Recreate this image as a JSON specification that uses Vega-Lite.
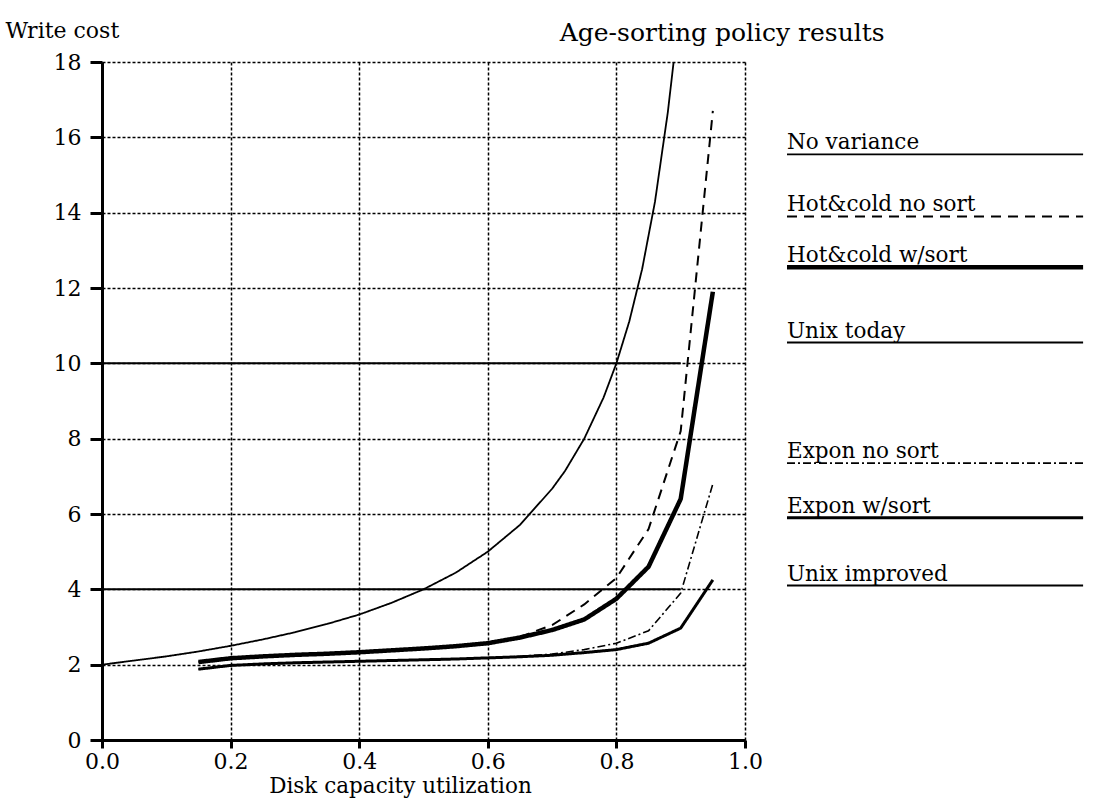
{
  "$schema": "https://vega.github.io/schema/vega-lite/v6.json",
  "background": "white",
  "padding": {"left": 5, "top": 19, "right": 0, "bottom": 5},
  "bounds": "flush",
  "spacing": 42,
  "config": {"view": {"stroke": null}, "font": "DejaVu Serif"},
  "resolve": {"scale": {"x": "independent", "y": "independent", "strokeDash": "independent", "strokeWidth": "independent"}},
  "datasets": {
    "curves": [
      {"s": "No variance", "u": 0, "c": 2}, {"s": "No variance", "u": 0.05, "c": 2.11}, {"s": "No variance", "u": 0.1, "c": 2.22}, {"s": "No variance", "u": 0.15, "c": 2.35}, {"s": "No variance", "u": 0.2, "c": 2.5}, {"s": "No variance", "u": 0.25, "c": 2.67}, {"s": "No variance", "u": 0.3, "c": 2.86}, {"s": "No variance", "u": 0.35, "c": 3.08}, {"s": "No variance", "u": 0.4, "c": 3.33}, {"s": "No variance", "u": 0.45, "c": 3.64}, {"s": "No variance", "u": 0.5, "c": 4}, {"s": "No variance", "u": 0.55, "c": 4.44}, {"s": "No variance", "u": 0.6, "c": 5}, {"s": "No variance", "u": 0.65, "c": 5.71}, {"s": "No variance", "u": 0.7, "c": 6.67}, {"s": "No variance", "u": 0.72, "c": 7.14}, {"s": "No variance", "u": 0.75, "c": 8}, {"s": "No variance", "u": 0.78, "c": 9.09}, {"s": "No variance", "u": 0.8, "c": 10}, {"s": "No variance", "u": 0.82, "c": 11.11}, {"s": "No variance", "u": 0.84, "c": 12.5}, {"s": "No variance", "u": 0.86, "c": 14.29}, {"s": "No variance", "u": 0.88, "c": 16.67}, {"s": "No variance", "u": 0.889, "c": 18},
      {"s": "Hot&cold no sort", "u": 0.15, "c": 2.07}, {"s": "Hot&cold no sort", "u": 0.2, "c": 2.17}, {"s": "Hot&cold no sort", "u": 0.25, "c": 2.22}, {"s": "Hot&cold no sort", "u": 0.3, "c": 2.26}, {"s": "Hot&cold no sort", "u": 0.35, "c": 2.29}, {"s": "Hot&cold no sort", "u": 0.4, "c": 2.33}, {"s": "Hot&cold no sort", "u": 0.45, "c": 2.38}, {"s": "Hot&cold no sort", "u": 0.5, "c": 2.43}, {"s": "Hot&cold no sort", "u": 0.55, "c": 2.49}, {"s": "Hot&cold no sort", "u": 0.6, "c": 2.57}, {"s": "Hot&cold no sort", "u": 0.65, "c": 2.74}, {"s": "Hot&cold no sort", "u": 0.7, "c": 3.05}, {"s": "Hot&cold no sort", "u": 0.75, "c": 3.6}, {"s": "Hot&cold no sort", "u": 0.8, "c": 4.3}, {"s": "Hot&cold no sort", "u": 0.85, "c": 5.6}, {"s": "Hot&cold no sort", "u": 0.9, "c": 8.2}, {"s": "Hot&cold no sort", "u": 0.95, "c": 16.7},
      {"s": "Hot&cold w/sort", "u": 0.15, "c": 2.07}, {"s": "Hot&cold w/sort", "u": 0.2, "c": 2.17}, {"s": "Hot&cold w/sort", "u": 0.25, "c": 2.22}, {"s": "Hot&cold w/sort", "u": 0.3, "c": 2.26}, {"s": "Hot&cold w/sort", "u": 0.35, "c": 2.29}, {"s": "Hot&cold w/sort", "u": 0.4, "c": 2.33}, {"s": "Hot&cold w/sort", "u": 0.45, "c": 2.38}, {"s": "Hot&cold w/sort", "u": 0.5, "c": 2.43}, {"s": "Hot&cold w/sort", "u": 0.55, "c": 2.49}, {"s": "Hot&cold w/sort", "u": 0.6, "c": 2.57}, {"s": "Hot&cold w/sort", "u": 0.65, "c": 2.72}, {"s": "Hot&cold w/sort", "u": 0.7, "c": 2.92}, {"s": "Hot&cold w/sort", "u": 0.75, "c": 3.2}, {"s": "Hot&cold w/sort", "u": 0.8, "c": 3.75}, {"s": "Hot&cold w/sort", "u": 0.85, "c": 4.6}, {"s": "Hot&cold w/sort", "u": 0.9, "c": 6.4}, {"s": "Hot&cold w/sort", "u": 0.95, "c": 11.9},
      {"s": "Expon no sort", "u": 0.15, "c": 1.88}, {"s": "Expon no sort", "u": 0.2, "c": 1.98}, {"s": "Expon no sort", "u": 0.25, "c": 2.02}, {"s": "Expon no sort", "u": 0.3, "c": 2.05}, {"s": "Expon no sort", "u": 0.35, "c": 2.07}, {"s": "Expon no sort", "u": 0.4, "c": 2.09}, {"s": "Expon no sort", "u": 0.45, "c": 2.11}, {"s": "Expon no sort", "u": 0.5, "c": 2.13}, {"s": "Expon no sort", "u": 0.55, "c": 2.15}, {"s": "Expon no sort", "u": 0.6, "c": 2.18}, {"s": "Expon no sort", "u": 0.65, "c": 2.22}, {"s": "Expon no sort", "u": 0.7, "c": 2.28}, {"s": "Expon no sort", "u": 0.75, "c": 2.4}, {"s": "Expon no sort", "u": 0.8, "c": 2.57}, {"s": "Expon no sort", "u": 0.85, "c": 2.9}, {"s": "Expon no sort", "u": 0.9, "c": 3.9}, {"s": "Expon no sort", "u": 0.95, "c": 6.8},
      {"s": "Expon w/sort", "u": 0.15, "c": 1.88}, {"s": "Expon w/sort", "u": 0.2, "c": 1.98}, {"s": "Expon w/sort", "u": 0.25, "c": 2.02}, {"s": "Expon w/sort", "u": 0.3, "c": 2.05}, {"s": "Expon w/sort", "u": 0.35, "c": 2.07}, {"s": "Expon w/sort", "u": 0.4, "c": 2.09}, {"s": "Expon w/sort", "u": 0.45, "c": 2.11}, {"s": "Expon w/sort", "u": 0.5, "c": 2.13}, {"s": "Expon w/sort", "u": 0.55, "c": 2.15}, {"s": "Expon w/sort", "u": 0.6, "c": 2.18}, {"s": "Expon w/sort", "u": 0.65, "c": 2.21}, {"s": "Expon w/sort", "u": 0.7, "c": 2.25}, {"s": "Expon w/sort", "u": 0.75, "c": 2.32}, {"s": "Expon w/sort", "u": 0.8, "c": 2.4}, {"s": "Expon w/sort", "u": 0.85, "c": 2.57}, {"s": "Expon w/sort", "u": 0.9, "c": 2.97}, {"s": "Expon w/sort", "u": 0.95, "c": 4.25},
      {"s": "Unix today", "u": 0, "c": 10}, {"s": "Unix today", "u": 0.9, "c": 10},
      {"s": "Unix improved", "u": 0, "c": 4}, {"s": "Unix improved", "u": 0.9, "c": 4}
    ],
    "legend": [
      {"s": "No variance", "level": 15.55},
      {"s": "Hot&cold no sort", "level": 13.9},
      {"s": "Hot&cold w/sort", "level": 12.55},
      {"s": "Unix today", "level": 10.55},
      {"s": "Expon no sort", "level": 7.35},
      {"s": "Expon w/sort", "level": 5.9},
      {"s": "Unix improved", "level": 4.1}
    ]
  },
  "hconcat": [
    {
      "width": 643,
      "height": 678,
      "data": {"name": "curves"},
      "mark": {"type": "line", "color": "black", "clip": true},
      "encoding": {
        "x": {
          "field": "u", "type": "quantitative",
          "scale": {"domain": [0, 1], "nice": false, "zero": false},
          "axis": {
            "values": [0, 0.2, 0.4, 0.6, 0.8, 1.0], "format": ".1f",
            "grid": true, "gridColor": "black", "gridDash": [3, 2], "gridWidth": 1.5, "gridOpacity": 1,
            "domainColor": "black", "domainWidth": 3, "tickColor": "black", "tickWidth": 3, "tickSize": 8,
            "labelFont": "DejaVu Serif", "labelFontSize": 22, "labelColor": "black", "labelPadding": 3, "labelFlush": false,
            "title": "Disk capacity utilization", "titleFont": "DejaVu Serif", "titleFontSize": 21.5, "titleFontWeight": "normal", "titleColor": "black",
            "titleX": 298, "titleY": 52, "titleAlign": "center", "titleBaseline": "alphabetic"
          }
        },
        "y": {
          "field": "c", "type": "quantitative",
          "scale": {"domain": [0, 18], "nice": false},
          "axis": {
            "values": [0, 2, 4, 6, 8, 10, 12, 14, 16, 18],
            "grid": true, "gridColor": "black", "gridDash": [3, 2], "gridWidth": 1.5, "gridOpacity": 1,
            "domainColor": "black", "domainWidth": 3, "tickColor": "black", "tickWidth": 3, "tickSize": 12,
            "labelFont": "DejaVu Serif", "labelFontSize": 22, "labelColor": "black", "labelPadding": 9, "labelFlush": false,
            "title": "Write cost", "titleFont": "DejaVu Serif", "titleFontSize": 22, "titleFontWeight": "normal", "titleColor": "black",
            "titleAngle": 0, "titleX": -97, "titleY": -25, "titleAlign": "left", "titleBaseline": "alphabetic"
          }
        },
        "detail": {"field": "s"},
        "strokeDash": {
          "field": "s", "type": "nominal", "legend": null,
          "scale": {"type": "ordinal", "domain": ["No variance", "Hot&cold no sort", "Hot&cold w/sort", "Unix today", "Expon no sort", "Expon w/sort", "Unix improved"],
                    "range": [[1, 0], [10, 7], [1, 0], [1, 0], [8, 3, 2, 3], [1, 0], [1, 0]]}
        },
        "strokeWidth": {
          "field": "s", "type": "nominal", "legend": null,
          "scale": {"type": "ordinal", "domain": ["No variance", "Hot&cold no sort", "Hot&cold w/sort", "Unix today", "Expon no sort", "Expon w/sort", "Unix improved"],
                    "range": [1.8, 2, 4.5, 2, 1.6, 3, 2]}
        }
      }
    },
    {
      "width": 329,
      "height": 678,
      "title": {"text": "Age-sorting policy results", "anchor": "start", "dx": -225, "offset": -4, "fontSize": 25, "font": "DejaVu Serif", "fontWeight": "normal", "color": "black", "baseline": "alphabetic"},
      "data": {"name": "legend"},
      "encoding": {
        "y": {"field": "level", "type": "quantitative", "scale": {"domain": [0, 18], "nice": false}, "axis": null}
      },
      "layer": [
        {
          "mark": {"type": "rule", "color": "black"},
          "encoding": {
            "x": {"datum": 0, "type": "quantitative", "scale": {"domain": [0, 1], "nice": false}, "axis": null},
            "x2": {"datum": 0.9},
            "strokeDash": {
              "field": "s", "type": "nominal", "legend": null,
              "scale": {"type": "ordinal", "domain": ["No variance", "Hot&cold no sort", "Hot&cold w/sort", "Unix today", "Expon no sort", "Expon w/sort", "Unix improved"],
                        "range": [[1, 0], [10, 7], [1, 0], [1, 0], [8, 3, 2, 3], [1, 0], [1, 0]]}
            },
            "strokeWidth": {
              "field": "s", "type": "nominal", "legend": null,
              "scale": {"type": "ordinal", "domain": ["No variance", "Hot&cold no sort", "Hot&cold w/sort", "Unix today", "Expon no sort", "Expon w/sort", "Unix improved"],
                        "range": [1.8, 2, 4.5, 2, 1.6, 3, 2]}
            }
          }
        },
        {
          "mark": {"type": "text", "align": "left", "baseline": "alphabetic", "dy": -5, "fontSize": 21.5, "font": "DejaVu Serif", "color": "black"},
          "encoding": {
            "x": {"datum": 0, "type": "quantitative", "scale": {"domain": [0, 1], "nice": false}, "axis": null},
            "text": {"field": "s"}
          }
        }
      ]
    }
  ]
}
